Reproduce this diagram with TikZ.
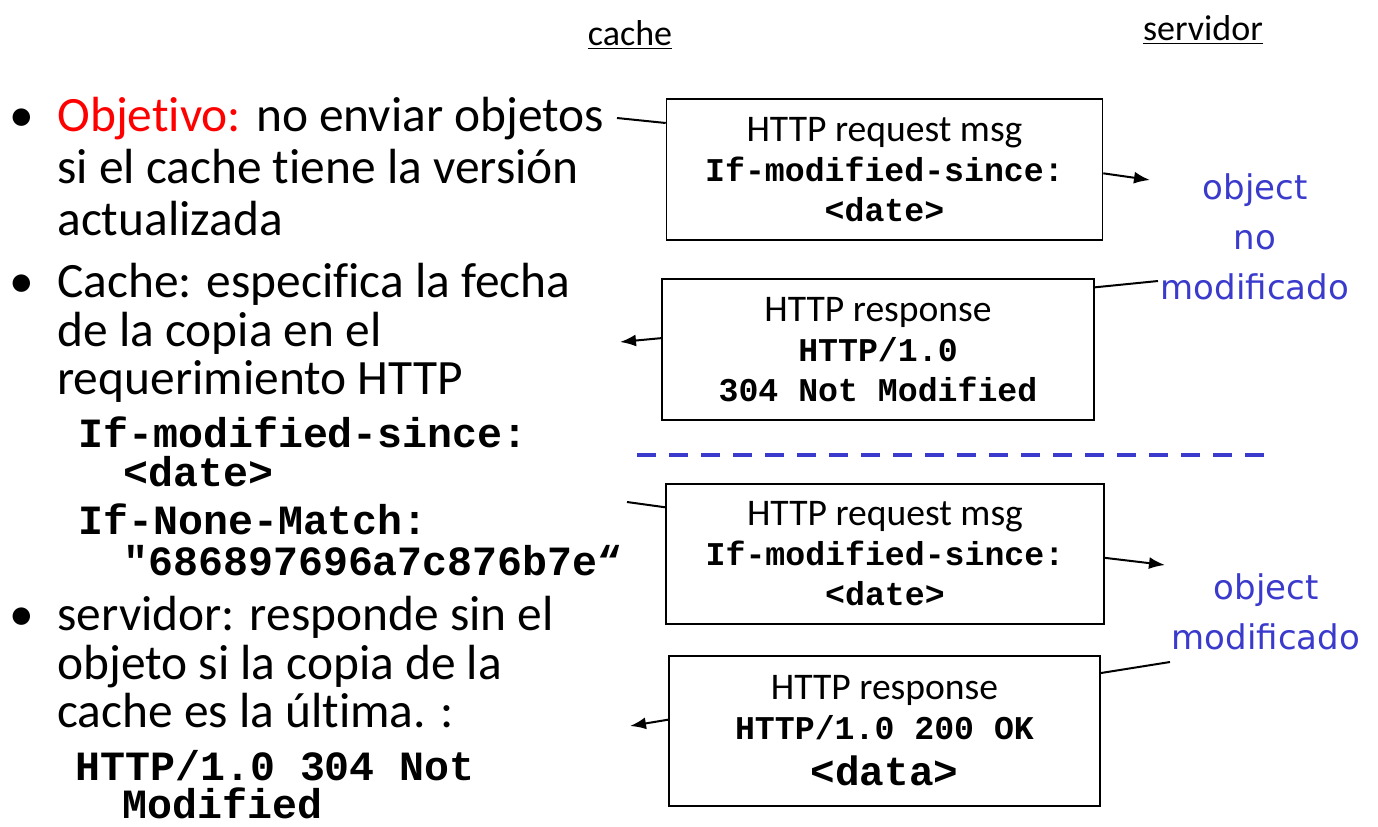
\documentclass[tikz,border=0pt]{standalone}
\usepackage{fontspec}
\setmainfont{Carlito}[Ligatures=NoCommon]
\setmonofont{Liberation Mono}
\newfontfamily\bluefont{DejaVu Sans}
\usetikzlibrary{arrows.meta}
\definecolor{objred}{RGB}{255,0,0}
\definecolor{objblue}{RGB}{58,58,204}
\newcommand{\msghead}{\rmfamily\mdseries\fontsize{18.8}{20}\selectfont}

\tikzset{
  msgbox/.style={draw, line width=0.8pt, align=center, inner sep=0pt,
    minimum width=218pt, minimum height=70.5pt,
    font=\ttfamily\bfseries\fontsize{16.6}{20}\selectfont},
  bodytxt/.style={anchor=base west, inner sep=0pt, font=\fontsize{24.7}{26}\selectfont},
  codetxt/.style={anchor=base west, inner sep=0pt, font=\ttfamily\bfseries\fontsize{20.8}{20}\selectfont},
  sidetxt/.style={align=center, inner sep=0pt, text=objblue, font=\bluefont\fontsize{17}{25}\selectfont},
  headtxt/.style={inner sep=0pt, font=\fontsize{18}{20}\selectfont},
  link/.style={line width=1pt},
  sendarrow/.style={line width=1pt, -{Latex[length=8pt,width=6pt]}},
}

\begin{document}
\begin{tikzpicture}[x=0.5pt, y=-0.5pt]
\useasboundingbox (0,0) rectangle (1378,826);

% column headers
\node[headtxt] (cache) at (630,35) {\underline{cache}};
\node[headtxt] (servidor) at (1203,30) {\underline{servidor}};

% left hand bullets
\node[bodytxt] (b1) at (9,131) {•};
\node[bodytxt] (l1) at (57,131) {{\color{objred}Objetivo:} no enviar objetos};
\node[bodytxt] (l2) at (57,183) {si el cache tiene la versión};
\node[bodytxt] (l3) at (57,235) {actualizada};
\node[bodytxt] (b2) at (9,297) {•};
\node[bodytxt] (l4) at (57,297) {Cache: especifica la fecha};
\node[bodytxt] (l5) at (57,346) {de la copia en el};
\node[bodytxt] (l6) at (57,394) {requerimiento HTTP};
\node[codetxt] (c1) at (78,447) {If-modified-since:};
\node[codetxt] (c2) at (123,486) {<date>};
\node[codetxt] (c3) at (78,534) {If-None-Match:};
\node[codetxt] (c4) at (123,575) {"686897696a7c876b7e“};
\node[bodytxt] (b3) at (9,630) {•};
\node[bodytxt] (l7) at (57,630) {servidor: responde sin el};
\node[bodytxt] (l8) at (57,679) {objeto si la copia de la};
\node[bodytxt] (l9) at (57,727) {cache es la última. :};
\node[codetxt] (c5) at (75,780) {HTTP/1.0 304 Not};
\node[codetxt] (c6) at (122,818) {Modified};

% message boxes
\node[msgbox] (req1) at (884.5,169.5) {{\msghead HTTP request msg}\\If-modified-since:\\<date>};
\node[msgbox, minimum width=216pt] (resp1) at (878,349.5) {{\msghead HTTP response}\\HTTP/1.0\\304 Not Modified};
\node[msgbox, minimum width=219pt, minimum height=70pt] (req2) at (885,554) {{\msghead HTTP request msg}\\If-modified-since:\\<date>};
\node[msgbox, minimum width=215.5pt, minimum height=75pt] (resp2) at (884.5,731) {{\msghead HTTP response}\\HTTP/1.0 200 OK\\[3pt]{\fontsize{20.5}{20}\selectfont <data>}};

% server side notes
\node[sidetxt] (obj1) at (1255,237) {object\\no\\modificado};
\node[sidetxt] (obj2) at (1266,612) {object\\modificado};

% separator
\draw[objblue, line width=2.4pt, dash pattern=on 9.5pt off 6.5pt] (637,455) -- (1272,455);

% connectors
\coordinate (t1) at (617,118);
\coordinate (a1) at (1150,180);
\coordinate (t2) at (1158,281);
\coordinate (a2) at (620,342);
\coordinate (t3) at (627,502);
\coordinate (a3) at (1165,565);
\coordinate (t4) at (1170,662);
\coordinate (a4) at (630,726);
\draw[link] (t1) -- (req1.168);
\draw[sendarrow] (req1.-1) -- (a1);
\draw[link] (t2) -- (resp1.16);
\draw[sendarrow] (resp1.177) -- (a2);
\draw[link] (t3) -- (req2.168);
\draw[sendarrow] (req2.-1) -- (a3);
\draw[link] (t4) -- (resp2.15.6);
\draw[sendarrow] (resp2.177.6) -- (a4);
\end{tikzpicture}
\end{document}
